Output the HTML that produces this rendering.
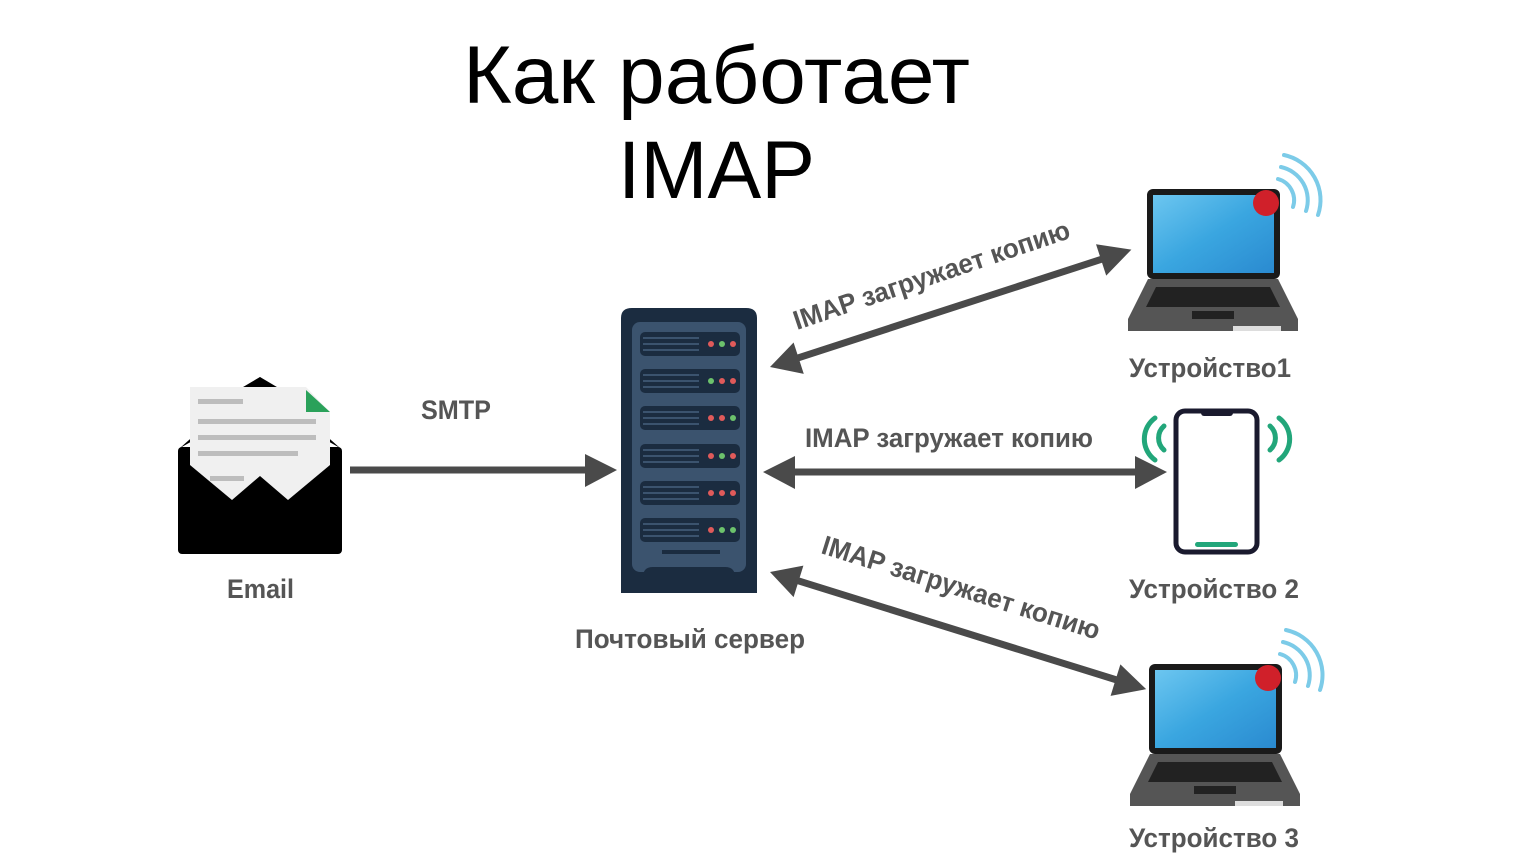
<!DOCTYPE html>
<html><head><meta charset="utf-8"><style>
html,body{margin:0;padding:0;background:#fff;}
svg{display:block;}
.t{font-family:"Liberation Sans Narrow","Liberation Sans",sans-serif;font-weight:bold;fill:#555;font-size:27px;}
</style></head><body>
<svg width="1536" height="864" viewBox="0 0 1536 864">
<defs>
<linearGradient id="scr" x1="0" y1="0" x2="1" y2="1">
<stop offset="0" stop-color="#6cc6f0"/><stop offset="0.5" stop-color="#3aa6e0"/><stop offset="1" stop-color="#2a8ad0"/>
</linearGradient>
<g id="laptop">
<rect x="19" y="0" width="133" height="90" rx="6" fill="#1a1a1a"/>
<rect x="25" y="6" width="121" height="78" fill="url(#scr)"/>
<path d="M20 90 H150 L170 130 V142 H0 V130 Z" fill="#555"/>
<path d="M28 98 H142 L152 118 H18 Z" fill="#222"/>
<rect x="64" y="122" width="42" height="8" fill="#222"/>
<rect x="105" y="137" width="48" height="5" fill="#ddd"/>
<circle cx="138" cy="14" r="13" fill="#d0202a"/>
<g fill="none" stroke="#7ccbe8" stroke-width="4" stroke-linecap="round">
<path d="M150 -10 A22 22 0 0 1 165 18"/>
<path d="M153 -22 A34 34 0 0 1 178 22"/>
<path d="M156 -34 A46 46 0 0 1 190 26"/>
</g>
</g>
</defs>

<text x="463" y="103" textLength="507" lengthAdjust="spacingAndGlyphs" font-family="Liberation Sans,sans-serif" font-size="82" fill="#000">Как работает</text>
<text x="618" y="198" textLength="197" lengthAdjust="spacingAndGlyphs" font-family="Liberation Sans,sans-serif" font-size="82" fill="#000">IMAP</text>

<path d="M260 377 L282 390 L180 448 Z" fill="#000"/>
<path d="M260 377 L238 390 L340 448 Z" fill="#000"/>
<rect x="178" y="447" width="164" height="107" rx="4" fill="#000"/>
<path d="M190 387 H306 L330 412 V465 L288 500 L260 476 L232 500 L190 465 Z" fill="#f0f0f0"/>
<path d="M306 390 L330 412 H306 Z" fill="#2aa15a"/>
<g fill="#bdbdbd"><rect x="198" y="399" width="45" height="5"/><rect x="198" y="419" width="118" height="5"/><rect x="198" y="435" width="118" height="5"/><rect x="198" y="451" width="100" height="5"/><rect x="210" y="476" width="34" height="5"/></g>

<path d="M621 318 Q621 308 632 308 H746 Q757 308 757 318 V593 H621 Z" fill="#1b2c40"/>
<rect x="632" y="322" width="114" height="250" rx="8" fill="#3b536e"/>
<path d="M643 593 V577 Q643 567 653 567 H725 Q735 567 735 577 V593 Z" fill="#1b2c40"/>
<rect x="662" y="550" width="58" height="4" fill="#1b2c40"/>
<g id="slot">
<rect x="640" y="332" width="100" height="24" rx="5" fill="#1b2c40"/>
<rect x="643" y="337" width="56" height="2" fill="#3b536e"/><rect x="643" y="343" width="56" height="2" fill="#3b536e"/><rect x="643" y="349" width="56" height="2" fill="#3b536e"/>
</g>
<use href="#slot" y="37"/><use href="#slot" y="74"/><use href="#slot" y="112"/><use href="#slot" y="149"/><use href="#slot" y="186"/>
<g>
<circle cx="711" cy="344" r="3" fill="#e05a5a"/><circle cx="722" cy="344" r="3" fill="#6cc26c"/><circle cx="733" cy="344" r="3" fill="#e05a5a"/>
<circle cx="711" cy="381" r="3" fill="#6cc26c"/><circle cx="722" cy="381" r="3" fill="#e05a5a"/><circle cx="733" cy="381" r="3" fill="#e05a5a"/>
<circle cx="711" cy="418" r="3" fill="#e05a5a"/><circle cx="722" cy="418" r="3" fill="#e05a5a"/><circle cx="733" cy="418" r="3" fill="#6cc26c"/>
<circle cx="711" cy="456" r="3" fill="#e05a5a"/><circle cx="722" cy="456" r="3" fill="#6cc26c"/><circle cx="733" cy="456" r="3" fill="#e05a5a"/>
<circle cx="711" cy="493" r="3" fill="#e05a5a"/><circle cx="722" cy="493" r="3" fill="#e05a5a"/><circle cx="733" cy="493" r="3" fill="#e05a5a"/>
<circle cx="711" cy="530" r="3" fill="#e05a5a"/><circle cx="722" cy="530" r="3" fill="#6cc26c"/><circle cx="733" cy="530" r="3" fill="#6cc26c"/>
</g>

<rect x="1176" y="411" width="81" height="141" rx="9" fill="#fff" stroke="#1a1a2e" stroke-width="5"/>
<rect x="1201" y="410" width="32" height="6" rx="3" fill="#1a1a2e"/>
<rect x="1195" y="542" width="43" height="5" rx="2.5" fill="#22a67a"/>
<g fill="none" stroke="#22a67a" stroke-width="5" stroke-linecap="round">
<path d="M1164 426 A16 16 0 0 0 1164 450"/><path d="M1155 418 A26 26 0 0 0 1155 460"/>
<path d="M1270 426 A16 16 0 0 1 1270 450"/><path d="M1279 418 A26 26 0 0 1 1279 460"/>
</g>

<use href="#laptop" x="1128" y="189"/>
<use href="#laptop" x="1130" y="664"/>

<g fill="#4a4a4a" stroke="#4a4a4a">
<line x1="350" y1="470" x2="590" y2="470" stroke-width="7"/>
<path d="M585 454 L617 470 L585 487 Z" stroke="none"/>
<line x1="790" y1="472" x2="1140" y2="472" stroke-width="7"/>
<path d="M795 456 L763 472 L795 489 Z" stroke="none"/>
<path d="M1135 456 L1167 472 L1135 489 Z" stroke="none"/>
<g transform="translate(770,367) rotate(-18)">
<line x1="25" y1="0" x2="350" y2="0" stroke-width="7"/>
<path d="M30 -16 L0 0 L30 17 Z" stroke="none"/>
<path d="M348 -16 L380 0 L348 17 Z" stroke="none"/>
</g>
<g transform="translate(770,572) rotate(17.3)">
<line x1="25" y1="0" x2="370" y2="0" stroke-width="7"/>
<path d="M30 -16 L0 0 L30 17 Z" stroke="none"/>
<path d="M362 -16 L394 0 L362 17 Z" stroke="none"/>
</g>
</g>

<text class="t" x="421" y="419" textLength="70" lengthAdjust="spacingAndGlyphs">SMTP</text>
<text class="t" x="227" y="598" textLength="67" lengthAdjust="spacingAndGlyphs">Email</text>
<text class="t" x="575" y="648" textLength="230" lengthAdjust="spacingAndGlyphs">Почтовый сервер</text>
<text class="t" x="1129" y="377" textLength="162" lengthAdjust="spacingAndGlyphs">Устройство1</text>
<text class="t" x="1129" y="598" textLength="170" lengthAdjust="spacingAndGlyphs">Устройство 2</text>
<text class="t" x="1129" y="847" textLength="170" lengthAdjust="spacingAndGlyphs">Устройство 3</text>
<text class="t" x="805" y="447" textLength="288" lengthAdjust="spacingAndGlyphs">IMAP загружает копию</text>
<text class="t" transform="translate(797,330) rotate(-18.6)" textLength="290" lengthAdjust="spacingAndGlyphs">IMAP загружает копию</text>
<text class="t" transform="translate(820,553) rotate(17.4)" textLength="290" lengthAdjust="spacingAndGlyphs">IMAP загружает копию</text>
</svg>
</body></html>
